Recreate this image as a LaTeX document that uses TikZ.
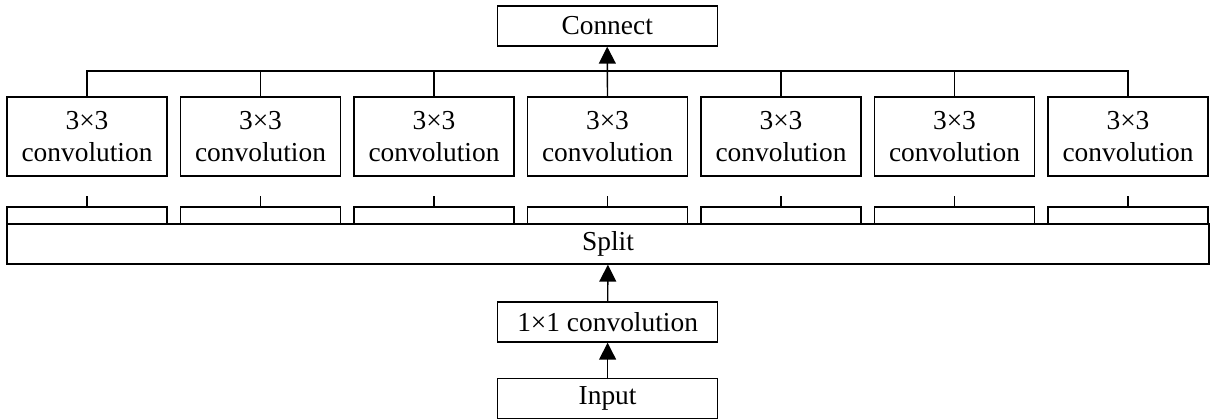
\documentclass[tikz,border=0pt]{standalone}
\usepackage{fontspec}
\setmainfont{Liberation Serif}
\usepackage{tikz}
\usetikzlibrary{arrows.meta, positioning}

\begin{document}
\begin{tikzpicture}[
  line width=1pt,
  every node/.style={font=\fontsize{19.5}{22.8}\selectfont},
  box/.style={draw, rectangle, inner sep=0pt, minimum height=1cm},
  convbox/.style={box, minimum width=4cm, minimum height=1.98cm, align=center},
  slot/.style={draw, rectangle, inner sep=0pt, minimum width=4cm, minimum height=0.425cm},
  flow/.style={-{Triangle[length=12pt,width=12pt]}}
]
\useasboundingbox (0,0) rectangle (30.3,-10.475);

% top and bottom of the stack
\node[box, minimum width=5.5cm] (connect) at (15.18,-0.65) {Connect};
\node[box, minimum width=30.05cm] (split) at (15.2,-6.1) {Split};
\node[box, minimum width=5.5cm] (conv1x1) at (15.19,-8.05) {1×1 convolution};
\node[box, minimum width=5.5cm] (input) at (15.19,-9.96) {Input};

% the seven 3x3 branches and their slots on the split
\coordinate (bus) at (0,-1.775);
\foreach \i in {0,...,6}{
  \node[convbox] (c\i) at (2.175+\i*4.3375,-3.41) {3×3\\convolution};
  \node[slot] (s\i) at (2.175+\i*4.3375,-5.39) {};
  \draw (s\i.north) -- ++(0,0.25);
}
\foreach \i in {1,2,4,5}{ \draw (c\i.north) -- (c\i.north |- bus); }
\draw (c0.north) |- (bus -| c6.north) -- (c6.north);
\draw[flow] (c3.north) -- (connect.south);

\draw[flow] (input) -- (conv1x1);
\draw[flow] (conv1x1) -- (split);
\end{tikzpicture}
\end{document}
